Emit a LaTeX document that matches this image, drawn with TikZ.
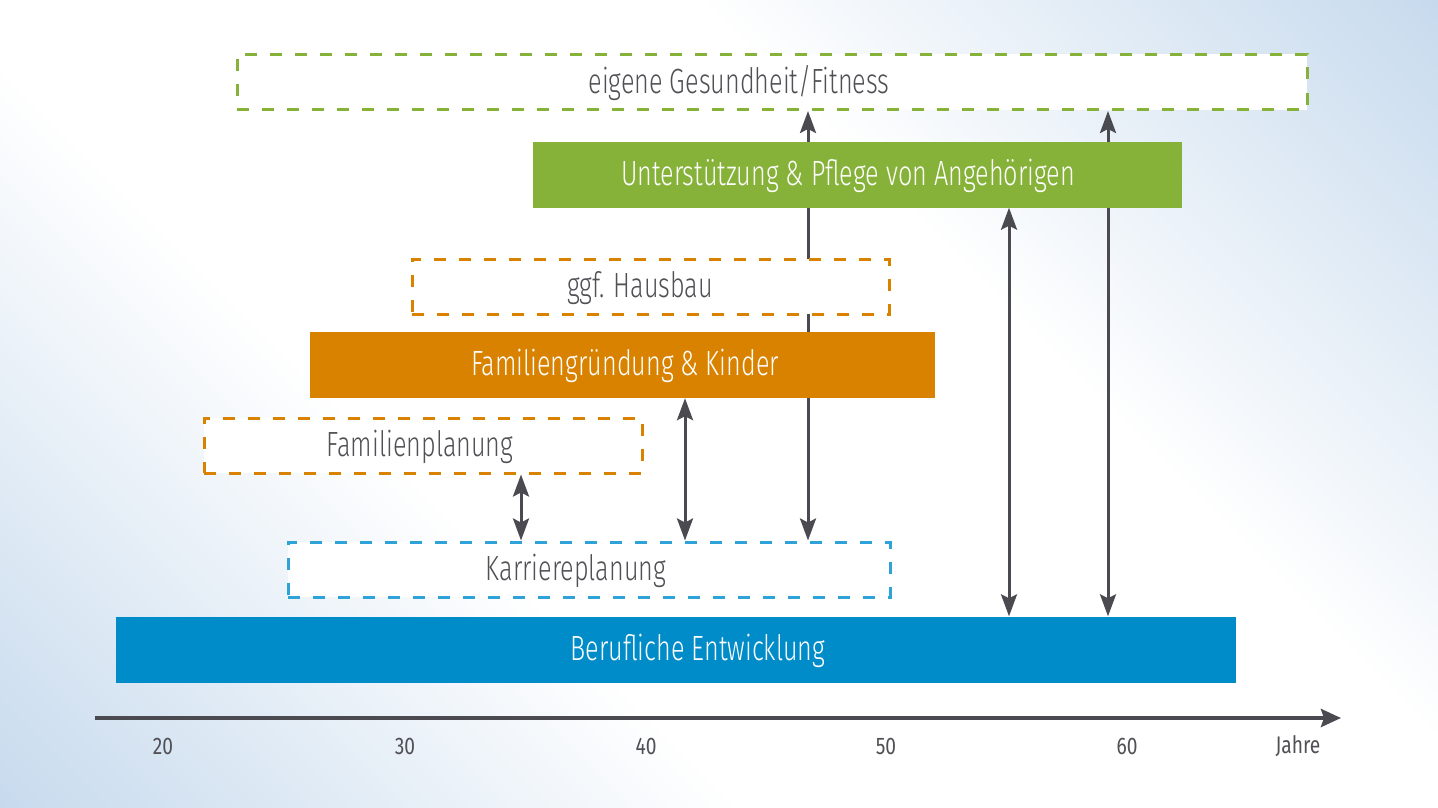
\documentclass[tikz,border=0pt]{standalone}
\usepackage{fontspec}
\IfFontExistsTF{Fira Sans Book}
  {\setmainfont{Fira Sans Book}[FakeStretch=0.72]}
  {\setmainfont{Fira Sans Light}[FakeStretch=0.72]}
\newfontfamily\tickfont{Fira Sans}[FakeStretch=0.8]
\usetikzlibrary{arrows.meta}

\definecolor{bgblue}{HTML}{B6CFE8}
\definecolor{pflegegreen}{HTML}{86B23A}
\definecolor{familyorange}{HTML}{D98200}
\definecolor{berufblue}{HTML}{008CC8}
\definecolor{planblue}{HTML}{2FA3D8}
\definecolor{arrowgray}{HTML}{4A4A50}
\definecolor{textgray}{HTML}{505055}

\pgfdeclarehorizontalshading{bgshade}{100bp}{color(0bp)=(bgblue); color(12bp)=(bgblue!85); color(38bp)=(white); color(62bp)=(white); color(88bp)=(bgblue!85); color(100bp)=(bgblue)}

\pgfdeclarelayer{backdrop}
\pgfdeclarelayer{links}
\pgfsetlayers{backdrop,links,main}

\begin{document}
\begin{tikzpicture}[x=1pt, y=-1pt,
    barbox/.style={inner sep=0pt, minimum height=66pt},
    planbox/.style={draw, line width=3pt, dash pattern=on 12pt off 13pt, fill=white, inner sep=0pt, minimum height=55pt},
    boxtext/.style={font=\fontsize{35}{40}\selectfont, text=textgray, inner sep=0pt},
    bartext/.style={boxtext, text=white},
    ticktext/.style={font=\tickfont\fontsize{24}{28}\selectfont, text=textgray, inner sep=0pt},
    link/.style={draw=arrowgray, line width=3pt, {Stealth[length=22pt,width=16pt,inset=4pt]}-{Stealth[length=22pt,width=16pt,inset=4pt]}}]
\useasboundingbox (0,0) rectangle (1438,808);
\begin{pgfonlayer}{backdrop}
\fill[shading=bgshade, shading angle=45] (0,0) rectangle (1438,808);
\end{pgfonlayer}

% boxes, top to bottom
\node[planbox, draw=pflegegreen, minimum width=1070pt] (gesundheit) at (772,82) {};
\node[boxtext] (gesundheit text) at (739,83) {eigene Gesundheit/Fitness};
\node[barbox, fill=pflegegreen, minimum width=649pt] (pflege) at (857.5,174.5) {};
\node[bartext] (pflege text) at (848,176) {Unterstützung \& Pflege von Angehörigen};
\node[planbox, draw=familyorange, minimum width=477pt] (hausbau) at (650.5,286.5) {};
\node[boxtext] (hausbau text) at (640,288) {ggf. Hausbau};
\node[barbox, fill=familyorange, minimum width=625pt] (familie) at (622.5,365) {};
\node[bartext] (familie text) at (625,366) {Familiengründung \& Kinder};
\node[planbox, draw=familyorange, minimum width=438pt] (familienplanung) at (423,445.5) {};
\node[boxtext] (familienplanung text) at (420,446.5) {Familienplanung};
\node[planbox, draw=planblue, minimum width=602pt] (karriere) at (589,569.5) {};
\node[boxtext] (karriere text) at (576,571) {Karriereplanung};
\node[barbox, fill=berufblue, minimum width=1120pt] (beruf) at (676,649.5) {};
\node[bartext] (beruf text) at (698,651) {Berufliche Entwicklung};

% columns of the links
\coordinate (col a) at (521,0);
\coordinate (col b) at (685,0);
\coordinate (col c) at (808,0);
\coordinate (col d) at (1009,0);
\coordinate (col e) at (1108,0);

\begin{pgfonlayer}{links}
\draw[link] (familienplanung.south -| col a) -- (karriere.north -| col a);
\draw[link] (familie.south -| col b) -- (karriere.north -| col b);
\draw[link] (gesundheit.south -| col c) -- (karriere.north -| col c);
\draw[link] (pflege.south -| col d) -- (beruf.north -| col d);
\draw[link] (gesundheit.south -| col e) -- (beruf.north -| col e);
\end{pgfonlayer}

% age axis
\coordinate (axis start) at (95,718);
\coordinate (axis end) at (1341,718);
\draw[draw=arrowgray, line width=4pt, -{Stealth[length=20pt,width=18pt,inset=3pt]}] (axis start) -- (axis end);
\node[ticktext] (age 20) at (163,746) {20};
\node[ticktext] (age 30) at (405,746) {30};
\node[ticktext] (age 40) at (646,746) {40};
\node[ticktext] (age 50) at (886,746) {50};
\node[ticktext] (age 60) at (1127,746) {60};
\node[ticktext] (jahre) at (1298,746) {Jahre};
\end{tikzpicture}
\end{document}
